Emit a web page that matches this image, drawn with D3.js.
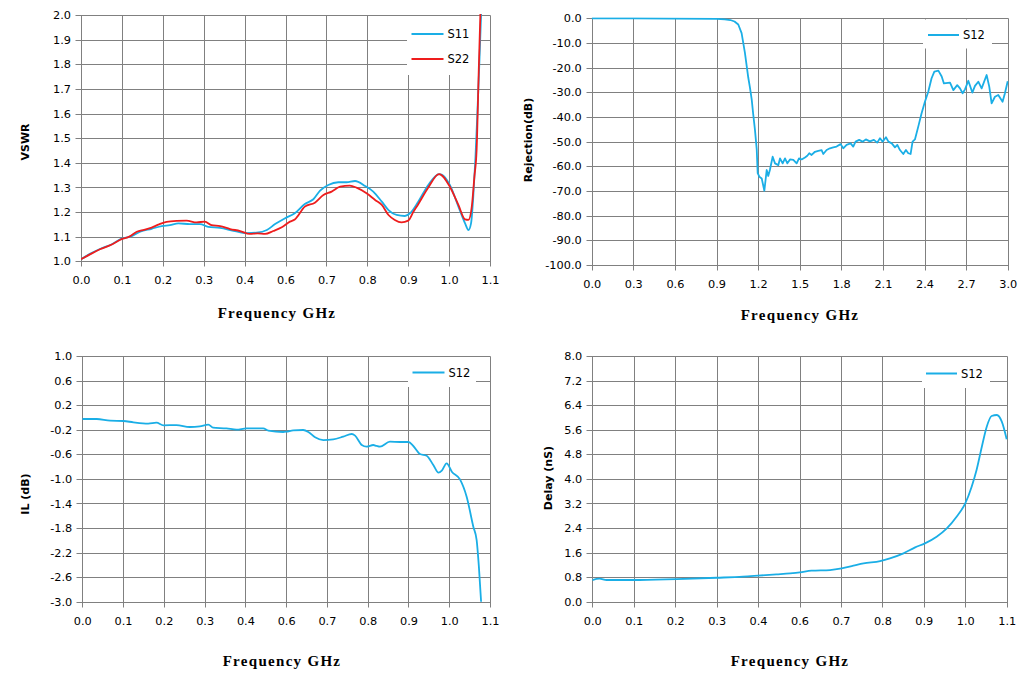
<!DOCTYPE html>
<html>
<head>
<meta charset="utf-8">
<script src="https://cdn.jsdelivr.net/npm/d3@7"></script>
<style>
    body { margin: 0; background: #fff; }
    svg { display: block; }
    .tick-label { font-family: "DejaVu Sans", Tahoma, sans-serif; font-size: 11.3px; fill: #000; }
    .axis-title { font-family: "DejaVu Sans", Tahoma, sans-serif; font-size: 11px; font-weight: bold; fill: #000; }
    .freq-title { font-family: "Liberation Serif", "DejaVu Serif", serif; font-size: 15px; font-weight: bold; letter-spacing: 1.3px; fill: #000; }
    .legend-label { font-family: "DejaVu Sans", Tahoma, sans-serif; font-size: 11.5px; fill: #000; }
</style>
</head>
<body>
<script>
// Tick labels (0..1.1 axis is split in 0.11 steps, labels rounded like the original)
var freqTickLabels = ["0.0", "0.1", "0.2", "0.3", "0.4", "0.6", "0.7", "0.8", "0.9", "1.0", "1.1"];
var rejFreqTickLabels = ["0.0", "0.3", "0.6", "0.9", "1.2", "1.5", "1.8", "2.1", "2.4", "2.7", "3.0"];
var vswrTickLabels = ["1.0", "1.1", "1.2", "1.3", "1.4", "1.5", "1.6", "1.7", "1.8", "1.9", "2.0"];
var rejTickLabels = ["-100.0", "-90.0", "-80.0", "-70.0", "-60.0", "-50.0", "-40.0", "-30.0", "-20.0", "-10.0", "0.0"];
var ilTickLabels = ["-3.0", "-2.6", "-2.2", "-1.8", "-1.4", "-1.0", "-0.6", "-0.2", "0.2", "0.6", "1.0"];
var delayTickLabels = ["0.0", "0.8", "1.6", "2.4", "3.2", "4.0", "4.8", "5.6", "6.4", "7.2", "8.0"];

// VSWR
var s11Freq = [0.000, 0.024, 0.051, 0.083, 0.109, 0.132, 0.159, 0.190, 0.217, 0.239, 0.262, 0.293, 0.320, 0.342,
    0.374, 0.410, 0.446, 0.472, 0.500, 0.522, 0.549, 0.575, 0.602, 0.625, 0.643, 0.665, 0.692, 0.714, 0.737,
    0.764, 0.786, 0.809, 0.827, 0.849, 0.871, 0.885, 0.907, 0.934, 0.963, 0.970, 0.992, 1.015, 1.033, 1.042,
    1.049, 1.055, 1.061, 1.066, 1.071, 1.076, 1.080];
var s11Vswr = [1.008, 1.030, 1.050, 1.069, 1.092, 1.100, 1.120, 1.132, 1.143, 1.147, 1.154, 1.151, 1.151, 1.140,
    1.136, 1.124, 1.114, 1.116, 1.127, 1.151, 1.175, 1.195, 1.233, 1.252, 1.287, 1.310, 1.321, 1.321, 1.326,
    1.306, 1.283, 1.242, 1.208, 1.188, 1.184, 1.195, 1.242, 1.310, 1.354, 1.352, 1.310, 1.222, 1.154, 1.127,
    1.154, 1.262, 1.425, 1.600, 1.790, 2.000, 2.200];
var s22Freq = [0.000, 0.024, 0.051, 0.083, 0.109, 0.130, 0.150, 0.170, 0.190, 0.210, 0.230, 0.257, 0.284, 0.311,
    0.333, 0.351, 0.374, 0.401, 0.428, 0.454, 0.475, 0.495, 0.517, 0.540, 0.562, 0.575, 0.602, 0.629, 0.652,
    0.674, 0.697, 0.723, 0.741, 0.768, 0.791, 0.809, 0.827, 0.844, 0.862, 0.880, 0.894, 0.907, 0.934, 0.963,
    0.992, 1.015, 1.033, 1.042, 1.051, 1.058, 1.064, 1.070, 1.074, 1.078];
var s22Vswr = [1.008, 1.028, 1.049, 1.068, 1.090, 1.100, 1.120, 1.128, 1.137, 1.150, 1.160, 1.164, 1.165, 1.158,
    1.161, 1.147, 1.143, 1.131, 1.123, 1.111, 1.113, 1.111, 1.123, 1.138, 1.161, 1.170, 1.222, 1.238, 1.269,
    1.283, 1.303, 1.307, 1.299, 1.276, 1.249, 1.229, 1.188, 1.168, 1.158, 1.165, 1.201, 1.232, 1.300, 1.354,
    1.303, 1.229, 1.170, 1.168, 1.222, 1.343, 1.452, 1.790, 2.000, 2.200];

// Rejection
var rejFreq = [0.00, 0.30, 0.60, 0.90, 0.96, 1.00, 1.03, 1.057, 1.081, 1.105, 1.129, 1.141, 1.154, 1.165, 1.177,
    1.190, 1.197, 1.209, 1.226, 1.245, 1.262, 1.273, 1.285, 1.305, 1.322, 1.346, 1.358, 1.377, 1.394, 1.411,
    1.430, 1.454, 1.478, 1.495, 1.514, 1.538, 1.555, 1.569, 1.586, 1.610, 1.634, 1.658, 1.670, 1.694, 1.718,
    1.742, 1.766, 1.795, 1.814, 1.838, 1.867, 1.886, 1.903, 1.929, 1.953, 1.977, 2.006, 2.035, 2.059, 2.079,
    2.098, 2.122, 2.140, 2.164, 2.187, 2.204, 2.223, 2.247, 2.266, 2.283, 2.300, 2.314, 2.331, 2.355, 2.379,
    2.403, 2.427, 2.451, 2.471, 2.500, 2.524, 2.540, 2.584, 2.608, 2.636, 2.656, 2.675, 2.692, 2.716, 2.745,
    2.764, 2.788, 2.812, 2.848, 2.867, 2.884, 2.908, 2.932, 2.963, 2.980, 3.000];
var rejS12 = [0.0, -0.05, -0.1, -0.2, -0.4, -0.7, -1.3, -2.5, -6.0, -14.0, -24.0, -28.0, -33.0, -39.0, -45.0,
    -53.0, -62.8, -64.2, -64.9, -69.9, -61.5, -63.9, -61.5, -56.1, -58.8, -59.5, -56.8, -58.8, -56.8, -58.8,
    -57.2, -57.4, -58.8, -56.8, -57.2, -56.4, -55.7, -54.7, -55.4, -54.1, -53.7, -53.4, -55.0, -53.4, -52.7,
    -52.3, -52.0, -51.0, -52.7, -51.3, -50.7, -52.0, -50.0, -49.3, -50.0, -49.1, -49.9, -49.3, -50.4, -48.6,
    -50.0, -48.2, -50.0, -50.7, -52.3, -51.3, -53.4, -55.0, -53.4, -54.7, -55.0, -50.0, -49.1, -43.9, -38.5,
    -33.8, -29.8, -24.3, -21.6, -21.2, -23.6, -26.4, -26.1, -29.1, -27.1, -28.4, -30.4, -28.8, -25.3, -30.1,
    -27.4, -25.7, -28.4, -23.0, -27.7, -34.5, -31.8, -31.1, -33.8, -30.4, -25.5];

// Insertion loss
var ilFreq = [0.000, 0.039, 0.075, 0.111, 0.138, 0.178, 0.200, 0.219, 0.254, 0.290, 0.317, 0.340, 0.353, 0.389,
    0.416, 0.443, 0.488, 0.502, 0.542, 0.551, 0.569, 0.596, 0.610, 0.628, 0.650, 0.677, 0.704, 0.727, 0.736,
    0.754, 0.767, 0.785, 0.794, 0.803, 0.830, 0.857, 0.880, 0.893, 0.911, 0.929, 0.947, 0.961, 0.970, 0.983,
    0.997, 1.019, 1.037, 1.055, 1.064, 1.070, 1.076];
var ilS12 = [-0.026, -0.026, -0.053, -0.058, -0.080, -0.100, -0.085, -0.129, -0.124, -0.156, -0.145, -0.118,
    -0.167, -0.178, -0.200, -0.178, -0.178, -0.216, -0.237, -0.232, -0.210, -0.205, -0.237, -0.324, -0.368,
    -0.357, -0.313, -0.270, -0.297, -0.449, -0.476, -0.449, -0.465, -0.476, -0.395, -0.400, -0.400, -0.465,
    -0.596, -0.623, -0.775, -0.900, -0.867, -0.748, -0.883, -1.008, -1.290, -1.779, -1.996, -2.430, -3.000];

// Group delay
var delayFreq = [0.000, 0.019, 0.038, 0.109, 0.224, 0.330, 0.400, 0.440, 0.489, 0.525, 0.551, 0.582, 0.631,
    0.662, 0.693, 0.720, 0.764, 0.790, 0.826, 0.857, 0.883, 0.914, 0.941, 0.967, 0.990, 1.007, 1.020, 1.034,
    1.047, 1.060, 1.074, 1.087, 1.100];
var delayS12 = [0.706, 0.749, 0.706, 0.706, 0.738, 0.780, 0.814, 0.847, 0.890, 0.923, 0.955, 1.010, 1.031,
    1.085, 1.172, 1.248, 1.324, 1.411, 1.574, 1.769, 1.900, 2.117, 2.388, 2.768, 3.202, 3.745, 4.288, 5.047,
    5.699, 6.046, 6.079, 5.862, 5.287];

var BLUE = "#1aaee6";
var RED = "#ee1d1d";
var GRID = "#808080";


/**
 * one frequency panel: grid, axes, legend, curves
 */
function FrequencyPanel(svgContainer, config) {
    var _g = svgContainer.append("g");
    var _bottom = config.top + config.height;
    var _right = config.left + config.width;

    var _x = d3.scaleLinear().domain(config.xDomain).range([config.left, _right]);
    var _y = d3.scaleLinear().domain(config.yDomain).range([_bottom, config.top]);

    var evenTicks = function(domain, count) {
        var step = (domain[1] - domain[0]) / (count - 1);
        return d3.range(count).map(function(i) { return domain[0] + i * step; });
    };

    // snap to pixel centre so every grid line is one pixel wide
    var snap = function(v) { return Math.round(v) + 0.5; };

    var _xTicks = evenTicks(config.xDomain, config.xLabels.length);
    var _yTicks = evenTicks(config.yDomain, config.yLabels.length);

    var drawGrid = function() {
        var grid = _g.append("g").attr("class", "grid");

        grid.selectAll(".vline").data(_xTicks).enter()
            .append("line")
            .attr("x1", function(d) { return snap(_x(d)); })
            .attr("x2", function(d) { return snap(_x(d)); })
            .attr("y1", snap(config.top))
            .attr("y2", snap(_bottom) + 5);

        grid.selectAll(".hline").data(_yTicks).enter()
            .append("line")
            .attr("x1", snap(config.left) - 6)
            .attr("x2", snap(_right))
            .attr("y1", function(d) { return snap(_y(d)); })
            .attr("y2", function(d) { return snap(_y(d)); });

        grid.selectAll("line")
            .attr("stroke", GRID)
            .attr("stroke-width", 1);
    };

    var drawAxes = function() {
        var xAxis = d3.axisBottom(_x)
            .tickValues(_xTicks)
            .tickSize(0)
            .tickPadding(15)
            .tickFormat(function(d, i) { return config.xLabels[i]; });

        var yAxis = d3.axisLeft(_y)
            .tickValues(_yTicks)
            .tickSize(0)
            .tickPadding(10)
            .tickFormat(function(d, i) { return config.yLabels[i]; });

        var gx = _g.append("g").attr("transform", "translate(0," + _bottom + ")").call(xAxis);
        var gy = _g.append("g").attr("transform", "translate(" + config.left + ",0)").call(yAxis);

        [gx, gy].forEach(function(a) {
            a.select(".domain").remove();
            a.selectAll("text").attr("class", "tick-label").attr("fill", null);
        });
    };

    var drawSeries = function() {
        var clipId = "clip-" + config.name;
        _g.append("clipPath").attr("id", clipId)
            .append("rect")
            .attr("x", config.left)
            .attr("y", config.top - 1)
            .attr("width", config.width + 1)
            .attr("height", config.height + 2);

        var line = d3.line()
            .x(function(d) { return _x(d[0]); })
            .y(function(d) { return _y(d[1]); })
            .curve(config.curve || d3.curveMonotoneX);

        config.series.forEach(function(s) {
            var points = d3.zip(s.freq, s.values);
            _g.append("path")
                .datum(points)
                .attr("clip-path", "url(#" + clipId + ")")
                .attr("fill", "none")
                .attr("stroke", s.color)
                .attr("stroke-width", 1.8)
                .attr("stroke-linejoin", "round")
                .attr("d", line);
        });
    };

    var drawLegend = function() {
        var lg = config.legend;
        var gLegend = _g.append("g").attr("class", "legend");

        gLegend.append("rect")
            .attr("x", lg.x)
            .attr("y", lg.y)
            .attr("width", lg.width)
            .attr("height", lg.height)
            .attr("fill", "#fff");

        var items = gLegend.selectAll(".legend-item")
            .data(config.series)
            .enter()
            .append("g")
                .attr("transform", function(d, i) {
                    return "translate(" + lg.lineX + "," + (lg.firstY + i * 25) + ")";
                });

        items.append("line")
            .attr("x1", 0)
            .attr("x2", lg.lineLength)
            .attr("stroke", function(d) { return d.color; })
            .attr("stroke-width", 2);

        items.append("text")
            .attr("class", "legend-label")
            .attr("x", lg.lineLength + 4)
            .attr("dy", "0.36em")
            .text(function(d) { return d.name; });
    };

    var drawTitles = function() {
        _g.append("text")
            .attr("class", "axis-title")
            .attr("text-anchor", "middle")
            .attr("transform", "translate(" + config.yTitlePos[0] + "," + config.yTitlePos[1] + ") rotate(-90)")
            .attr("dy", "0.35em")
            .text(config.yTitle);

        _g.append("text")
            .attr("class", "freq-title")
            .attr("text-anchor", "middle")
            .attr("x", config.xTitlePos[0])
            .attr("y", config.xTitlePos[1])
            .attr("dy", "0.35em")
            .text("Frequency GHz");
    };

    var init = function() {
        drawGrid();
        drawAxes();
        drawLegend();
        drawSeries();
        drawTitles();
    } ();
}


var svg = d3.select("body").append("svg")
    .attr("width", 1021)
    .attr("height", 673);

new FrequencyPanel(svg, {
    name: "vswr",
    left: 81, top: 15, width: 409, height: 246.3,
    xDomain: [0, 1.1], yDomain: [1.0, 2.0],
    xLabels: freqTickLabels, yLabels: vswrTickLabels,
    yTitle: "VSWR", yTitlePos: [25, 142], xTitlePos: [277, 313],
    series: [
        { name: "S11", color: BLUE, freq: s11Freq, values: s11Vswr },
        { name: "S22", color: RED, freq: s22Freq, values: s22Vswr }
    ],
    legend: { x: 407, y: 16, width: 73, height: 59, lineX: 411.5, firstY: 34, lineLength: 32 }
});

new FrequencyPanel(svg, {
    name: "rejection",
    left: 591.7, top: 18.3, width: 416, height: 246.7,
    xDomain: [0, 3.0], yDomain: [-100, 0],
    xLabels: rejFreqTickLabels, yLabels: rejTickLabels,
    curve: d3.curveLinear,
    yTitle: "Rejection(dB)", yTitlePos: [528, 140], xTitlePos: [800, 315],
    series: [
        { name: "S12", color: BLUE, freq: rejFreq, values: rejS12 }
    ],
    legend: { x: 923, y: 19.5, width: 69, height: 29, lineX: 928, firstY: 35, lineLength: 31 }
});

new FrequencyPanel(svg, {
    name: "il",
    left: 82.3, top: 356, width: 407.7, height: 245.7,
    xDomain: [0, 1.1], yDomain: [-3.0, 1.0],
    xLabels: freqTickLabels, yLabels: ilTickLabels,
    yTitle: "IL (dB)", yTitlePos: [25, 494], xTitlePos: [282, 661],
    series: [
        { name: "S12", color: BLUE, freq: ilFreq, values: ilS12 }
    ],
    legend: { x: 408, y: 357, width: 68, height: 30, lineX: 412.5, firstY: 372.5, lineLength: 32 }
});

new FrequencyPanel(svg, {
    name: "delay",
    left: 592.3, top: 356, width: 414.4, height: 245.7,
    xDomain: [0, 1.1], yDomain: [0, 8.0],
    xLabels: freqTickLabels, yLabels: delayTickLabels,
    yTitle: "Delay (nS)", yTitlePos: [548, 478], xTitlePos: [790, 661],
    series: [
        { name: "S12", color: BLUE, freq: delayFreq, values: delayS12 }
    ],
    legend: { x: 922, y: 357, width: 68, height: 31, lineX: 926, firstY: 373.5, lineLength: 31 }
});
</script>
</body>
</html>
